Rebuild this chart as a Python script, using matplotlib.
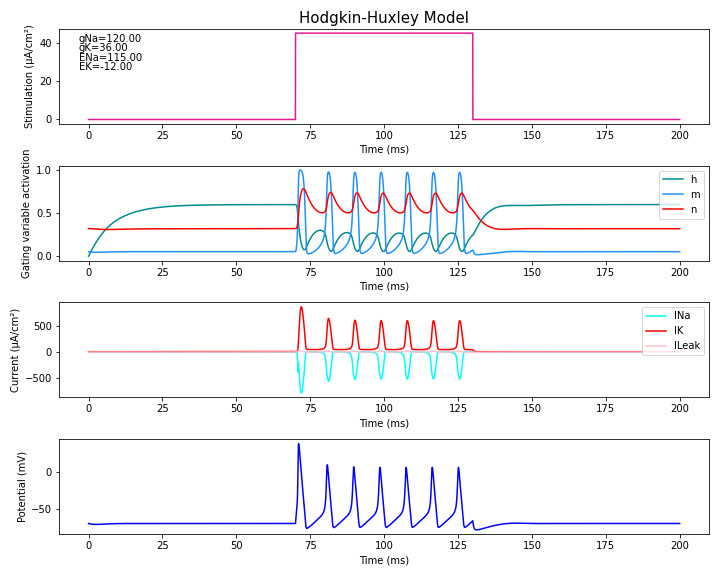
import matplotlib
matplotlib.use("Agg")
import matplotlib.pyplot as plt
import numpy as np

# model parameters shown on the chart
gNa, gK, gL = 120.0, 36.0, 0.3
ENa, EK, EL = 115.0, -12.0, 10.613
Cm = 1.0
stim_amp = 45.0
stim_on, stim_off = 70.0, 130.0
t_end, dt = 200.0, 0.01
v_offset = -70.0
init = dict(V=0.0, m=0.05, h=0.0, n=0.32)


def an(V): return 0.01 * (10 - V) / (np.exp((10 - V) / 10) - 1)
def bn(V): return 0.125 * np.exp(-V / 80)
def am(V): return 0.1 * (25 - V) / (np.exp((25 - V) / 10) - 1)
def bm(V): return 4.0 * np.exp(-V / 18)
def ah(V): return 0.07 * np.exp(-V / 20)
def bh(V): return 1.0 / (np.exp((30 - V) / 10) + 1)


t = np.arange(0, t_end + dt, dt)
N = len(t)
stim = np.where((t >= stim_on) & (t < stim_off), stim_amp, 0.0)
V = np.zeros(N); m = np.zeros(N); h = np.zeros(N); n = np.zeros(N)
V[0], m[0], h[0], n[0] = init["V"] + 1e-6, init["m"], init["h"], init["n"]
for i in range(N - 1):
    v = V[i]
    iNa = gNa * m[i] ** 3 * h[i] * (v - ENa)
    iK = gK * n[i] ** 4 * (v - EK)
    iL = gL * (v - EL)
    V[i + 1] = v + dt * (stim[i] - iNa - iK - iL) / Cm
    m[i + 1] = m[i] + dt * (am(v) * (1 - m[i]) - bm(v) * m[i])
    h[i + 1] = h[i] + dt * (ah(v) * (1 - h[i]) - bh(v) * h[i])
    n[i + 1] = n[i] + dt * (an(v) * (1 - n[i]) - bn(v) * n[i])
INa = gNa * m ** 3 * h * (V - ENa)
IK = gK * n ** 4 * (V - EK)
IL = gL * (V - EL)

fig, axs = plt.subplots(4, 1, figsize=(10, 8), dpi=72)
ax = axs[0]
ax.plot(t, stim, color="#e6198c")
ax.set_title("Hodgkin-Huxley Model", fontsize=15)
ax.set_ylabel("Stimulation (µA/cm²)")
ax.text(0.03, 0.95, f"gNa={gNa:.2f}\ngK={gK:.2f}\nENa={ENa:.2f}\nEK={EK:.2f}",
        transform=ax.transAxes, va="top", fontsize=10, linespacing=0.95)

ax = axs[1]
ax.plot(t, h, color="#008b8b", label="h")
ax.plot(t, m, color="#1e90ff", label="m")
ax.plot(t, n, color="red", label="n")
ax.set_ylabel("Gating variable activation")
ax.legend(loc="upper right")

ax = axs[2]
ax.plot(t, INa, color="cyan", label="INa")
ax.plot(t, IK, color="red", label="IK")
ax.plot(t, IL, color="pink", label="ILeak")
ax.set_ylabel("Current (µA/cm²)")
ax.legend(loc="upper right")

ax = axs[3]
ax.plot(t, V + v_offset, color="blue")
ax.set_ylabel("Potential (mV)")

for ax in axs:
    ax.set_xlabel("Time (ms)")
fig.tight_layout()
fig.savefig("out.png")
